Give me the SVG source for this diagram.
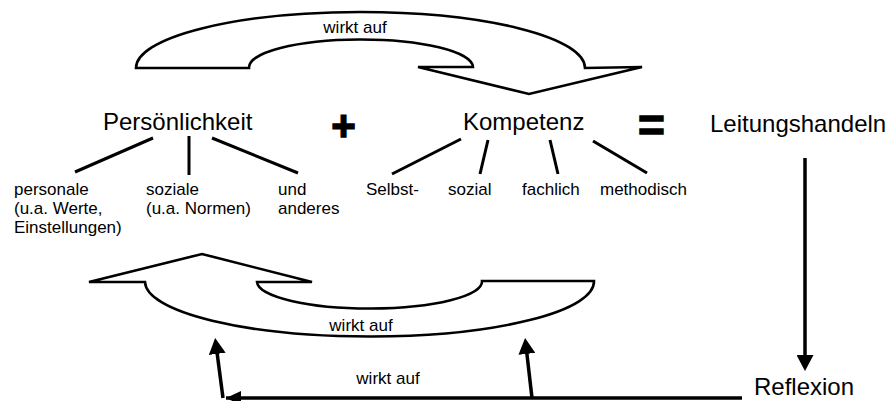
<svg xmlns="http://www.w3.org/2000/svg" width="896" height="401" viewBox="0 0 896 401">
  <style>
    text { font-family: "Liberation Sans", Arial, sans-serif; fill: #000; }
    .big { font-size: 24px; }
    .small { font-size: 17px; }
    .op { font-weight: bold; text-anchor: middle; stroke: #000; stroke-width: 1.4px; }
    .mid { text-anchor: middle; }
    .branch { stroke: #000; stroke-width: 3; stroke-linecap: butt; fill: none; }
    .bigarrow { fill: #fff; stroke: #000; stroke-width: 2.6; stroke-linejoin: miter; }
    .flow { stroke: #000; stroke-width: 3.5; fill: none; }
  </style>
  <defs>
    <marker id="head" viewBox="0 0 16 17" refX="1" refY="8.5" markerWidth="16" markerHeight="17" markerUnits="userSpaceOnUse" orient="auto">
      <path d="M0,0 L16,8.5 L0,17 Z" fill="#000"/>
    </marker>
    <marker id="tail" viewBox="0 0 15 14" refX="15" refY="7" markerWidth="15" markerHeight="14" markerUnits="userSpaceOnUse" orient="auto-start-reverse">
      <path d="M0,0 L15,7 L0,14 Z" fill="#000"/>
    </marker>
  </defs>

  <!-- curved block arrow: Persönlichkeit acts on Kompetenz -->
  <g id="arrow-top">
    <path class="bigarrow" d="M136,68 A224.5,56 0 0 1 585,68 L642,67 L529,94 L418,67 L473,67 A112,28 0 0 0 249,68 Z"/>
    <text class="small mid" x="355" y="33">wirkt auf</text>
  </g>

  <!-- curved block arrow: Kompetenz acts back on Persönlichkeit -->
  <g id="arrow-bottom">
    <path class="bigarrow" d="M89,282 L202,254 L312,282 L257,282 A112.5,27 0 0 0 482,281 L594,281 A224.5,55 0 0 1 145,282 Z"/>
    <text class="small mid" x="361" y="331">wirkt auf</text>
  </g>

  <g id="node-persoenlichkeit">
    <text class="big" x="103" y="130">Persönlichkeit</text>
  </g>
  <g id="op-plus">
    <text class="op" x="343.5" y="140" font-size="42">+</text>
  </g>
  <g id="node-kompetenz">
    <text class="big" x="463" y="130">Kompetenz</text>
  </g>
  <g id="op-equals">
    <text class="op" x="651.5" y="141" font-size="46">=</text>
  </g>
  <g id="node-leitungshandeln">
    <text class="big" x="710" y="132">Leitungshandeln</text>
  </g>
  <g id="node-reflexion">
    <text class="big" x="754" y="395">Reflexion</text>
  </g>

  <g id="node-personale">
    <text class="small" x="14" y="195">personale</text>
    <text class="small" x="14" y="214">(u.a. Werte,</text>
    <text class="small" x="14" y="233">Einstellungen)</text>
  </g>
  <g id="node-soziale">
    <text class="small" x="146" y="195">soziale</text>
    <text class="small" x="146" y="214">(u.a. Normen)</text>
  </g>
  <g id="node-anderes">
    <text class="small" x="278" y="195">und</text>
    <text class="small" x="278" y="214">anderes</text>
  </g>
  <g id="node-selbst"><text class="small" x="366" y="195">Selbst-</text></g>
  <g id="node-sozial"><text class="small" x="448" y="195">sozial</text></g>
  <g id="node-fachlich"><text class="small" x="522" y="195">fachlich</text></g>
  <g id="node-methodisch"><text class="small" x="600" y="195">methodisch</text></g>

  <g id="connectors">
    <!-- branches under Persönlichkeit -->
    <line class="branch" x1="153" y1="138" x2="75" y2="172"/>
    <line class="branch" x1="189" y1="136" x2="189" y2="175"/>
    <line class="branch" x1="212" y1="138" x2="298" y2="173"/>
    <!-- branches under Kompetenz -->
    <line class="branch" x1="461" y1="139" x2="392" y2="174"/>
    <line class="branch" x1="488" y1="140" x2="480" y2="174"/>
    <line class="branch" x1="550" y1="140" x2="558" y2="174"/>
    <line class="branch" x1="593" y1="141" x2="647" y2="173"/>
    <!-- Leitungshandeln to Reflexion -->
    <line class="flow" x1="805" y1="158" x2="805" y2="356" stroke-width="4" marker-end="url(#head)"/>
    <!-- Reflexion feeding back -->
    <line class="flow" x1="226" y1="398" x2="742" y2="398" stroke-width="3" marker-start="url(#tail)"/>
    <line class="flow" x1="223" y1="398" x2="217.1" y2="352.9" marker-end="url(#head)"/>
    <line class="flow" x1="532" y1="398" x2="526.8" y2="352.9" marker-end="url(#head)"/>
    <text class="small mid" x="388" y="384">wirkt auf</text>
  </g>
</svg>
